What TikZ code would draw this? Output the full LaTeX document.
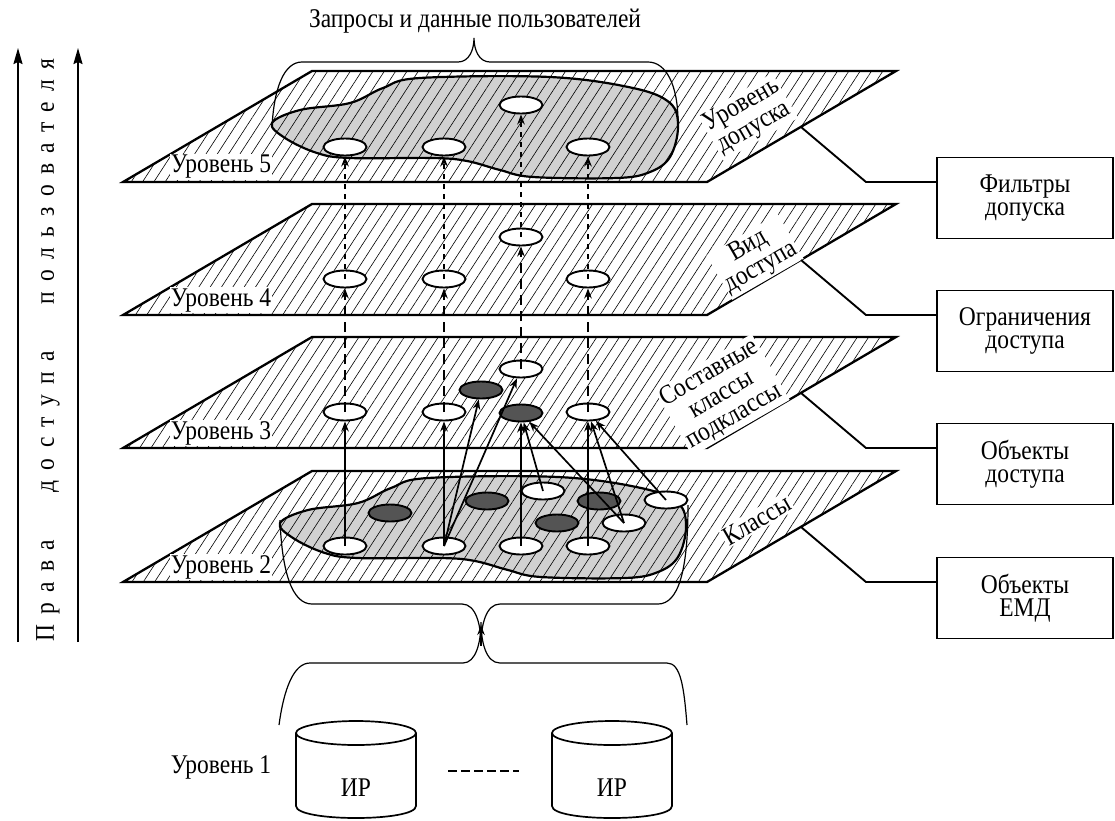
\documentclass[tikz,border=0pt]{standalone}
\usepackage{fontspec}
\setmainfont[FakeStretch=0.87]{Liberation Serif}
\usetikzlibrary{arrows.meta,patterns.meta,shapes.geometric}

\newcommand\letterspread[1]{\ifx#1\relax\else#1\hskip 0.38em\expandafter\letterspread\fi}

\tikzset{
  hatch/.style={postaction={pattern={Lines[angle=57,distance=9.5pt,line width=0.6pt]}}},
  plane/.style={draw, line width=2.3pt, fill=white, hatch},
  blob/.style={draw, line width=2.2pt, fill=black!18, hatch},
  obj/.style={ellipse, draw, line width=1.9pt, fill=white, minimum width=43pt, minimum height=17pt, inner sep=0pt},
  dark/.style={obj, fill=black!67},
  up/.style={-{Stealth[length=10pt,width=7.5pt]}, line width=1.7pt},
  dashup/.style={up, dash pattern=on 10pt off 6pt},
  dotup/.style={up, dash pattern=on 5pt off 5pt},
  lvl/.style={fill=white, inner sep=1pt},
  tag/.style={fill=white, rotate=30, align=center, inner sep=1.5pt, font=\fontsize{27}{25}\selectfont},
  box/.style={draw, line width=1.9pt, align=center, minimum width=176pt, minimum height=81pt},
  conn/.style={line width=1.9pt},
  brace/.style={line width=1.2pt},
  bigup/.style={-{Stealth[length=16pt,width=9pt,inset=2pt]}, line width=1.9pt}
}

\begin{document}
\begin{tikzpicture}[x=1pt, y=-1pt, font=\fontsize{27}{23}\selectfont]
\useasboundingbox (0,0) rectangle (1115,820);

% planes
\foreach \t in {71,204,337,471}
  \draw[plane] (312,\t) -- (896,\t) -- (707,\t+111) -- (123,\t+111) -- cycle;

% grey regions on levels 5 and 2
\foreach \dx/\dy in {0/0, 8/400}
  \draw[blob, shift={(\dx,\dy)}] plot[smooth cycle, tension=0.6] coordinates {
    (272,123) (300,110) (350,103) (383,88) (420,78) (550,77) (633,88) (670,103)
    (678,127) (670,157) (650,172) (617,178) (533,177) (500,170) (467,161)
    (433,158) (350,158) (317,153) (285,138)};

% level labels
\foreach \t/\n in {71/5,204/4,337/3,471/2}
  \node[lvl] (lev\n) at (221,\t+96) {Уровень \n};

\node[tag] (t5) at (748,117) {Уровень\\допуска};
\node[tag] (t4) at (755,257) {Вид\\доступа};
\node[tag] (t3) at (722,395) {Составные\\классы\\подклассы};
\node[tag] (t2) at (757,520) {Классы};

% level 2
\node[obj]  (cl1)  at (345,546) {};
\node[dark] (cl2)  at (390,513) {};
\node[obj]  (cl3)  at (444,546) {};
\node[dark] (cl4)  at (487,501) {};
\node[obj]  (cl5)  at (543,491) {};
\node[obj]  (cl6)  at (521,546) {};
\node[dark] (cl7)  at (557,523) {};
\node[dark] (cl8)  at (599,501) {};
\node[obj]  (cl9)  at (588,546) {};
\node[obj]  (cl10) at (624,523) {};
\node[obj]  (cl11) at (666,500) {};

% level 3
\node[obj]  (s1) at (345,412) {};
\node[obj]  (s2) at (444,412) {};
\node[dark] (s3) at (481,390) {};
\node[obj]  (s4) at (521,369) {};
\node[dark] (s5) at (521,413) {};
\node[obj]  (s6) at (588,412) {};

% levels 4 and 5
\foreach \x/\y/\n in {345/279/1, 444/279/2, 521/237/3, 588/279/4} {
  \node[obj] (v\n) at (\x,\y) {};
  \node[obj] (u\n) at (\x,\y-132) {};
}

% links
\foreach \a/\b in {cl1/s1, cl3/s2, cl3/s3, cl3/s4, cl6/s5, cl5/s5, cl10/s5, cl9/s6, cl10/s6, cl11/s6}
  \draw[up] (\a.center) -- (\b);
\foreach \a/\b in {s1/v1, s2/v2, s4/v3, s6/v4}
  \draw[dashup] (\a.center) -- (\b);
\foreach \n in {1,2,3,4}
  \draw[dotup] (v\n.center) -- (u\n);

% braces
\node (req) at (475,21) {Запросы и данные пользователей};
\draw[brace] (272,127) .. controls (274,88) and (284,62) .. (302,62) -- (458,62)
  .. controls (469,62) and (474,50) .. (474,38) .. controls (474,50) and (479,62) .. (490,62)
  -- (648,62) .. controls (666,62) and (678,85) .. (678,122);
\draw[brace] (280,520) .. controls (282,572) and (292,604) .. (312,604) -- (462,604)
  .. controls (476,604) and (481,625) .. (481,645) .. controls (481,625) and (486,604) .. (500,604)
  -- (658,604) .. controls (678,604) and (688,572) .. (688,505);
\draw[brace] (279,725) .. controls (284,688) and (294,663) .. (310,663) -- (463,663)
  .. controls (476,663) and (481,642) .. (481,622) .. controls (481,642) and (486,663) .. (500,663)
  -- (667,663) .. controls (681,663) and (684,688) .. (687,725);
\coordinate (src) at (481,646);
\coordinate (dst) at (481,625);
\draw[up] (src) -- (dst);

% boxes on the right
\foreach \t/\n/\txt in {71/5/{Фильтры\\допуска}, 204/4/{Ограничения\\доступа},
                        337/3/{Объекты\\доступа}, 471/2/{Объекты\\ЕМД}} {
  \coordinate (e\n) at (801,\t+56);
  \coordinate (k\n) at (866,\t+111);
  \node[box] (b\n) at (1025,\t+127) {\txt};
  \draw[conn] (e\n) -- (k\n) -- (k\n -| b\n.west);
}

% user rights
\coordinate (r1) at (18,642);
\coordinate (r2) at (78,642);
\draw[bigup] (r1) -- ++(0,-594);
\draw[bigup] (r2) -- ++(0,-594);
\node[rotate=90] (rights) at (48,350) {\letterspread Права\quad доступа\quad пользователя\relax};

% level 1
\node (lev1) at (221,767) {Уровень 1};
\foreach \cx/\n in {356/1, 612/2} {
  \draw[line width=1.7pt, fill=white] (\cx-60,733) -- (\cx-60,806)
    .. controls (\cx-60,822) and (\cx+60,822) .. (\cx+60,806) -- (\cx+60,733);
  \draw[line width=1.7pt] (\cx,733) ellipse [x radius=60, y radius=12];
  \node (ir\n) at (\cx,788) {ИР};
}
\draw[line width=1.7pt, dash pattern=on 9pt off 4pt] (448,771) -- (519,771);
\end{tikzpicture}
\end{document}
